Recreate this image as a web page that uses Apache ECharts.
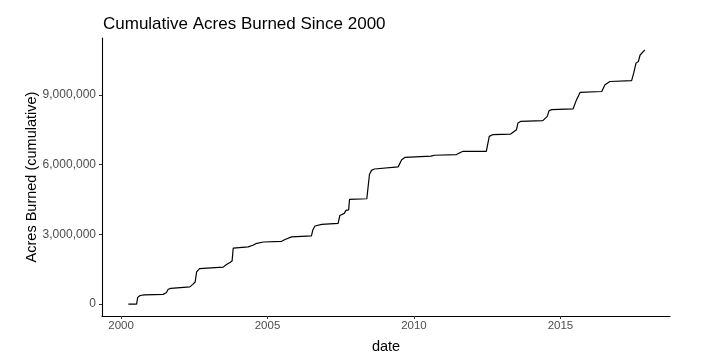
<!DOCTYPE html>
<html>
<head>
<meta charset="utf-8">
<script src="https://cdn.jsdelivr.net/npm/echarts@6/dist/echarts.min.js"></script>
<style>html,body{margin:0;padding:0;background:#fff}#c{width:722px;height:359px}</style>
</head>
<body>
<div id="c"></div>
<script>
const titleText = 'Cumulative Acres Burned Since 2000';
const xTicks = [2000, 2005, 2010, 2015];
const yTicks = [0, 3000000, 6000000, 9000000];
const years = [2000.25,2000.53,2000.57,2000.65,2000.8,2001.44,2001.55,2001.61,2001.7,2002.35,2002.45,2002.53,2002.58,2002.68,2003.49,2003.6,2003.72,2003.79,2003.83,2004.34,2004.5,2004.6,2004.86,2005.48,2005.6,2005.82,2006.5,2006.55,2006.62,2006.85,2007.41,2007.47,2007.62,2007.68,2007.77,2007.8,2008.39,2008.48,2008.55,2008.65,2009.46,2009.58,2009.7,2010.58,2010.7,2011.45,2011.6,2011.68,2012.47,2012.57,2012.7,2013.3,2013.5,2013.55,2013.65,2014.4,2014.55,2014.61,2014.7,2015.43,2015.55,2015.67,2016.41,2016.52,2016.69,2017.43,2017.5,2017.58,2017.66,2017.72,2017.88];
const acresM = [0,0,0.29,0.37,0.40,0.42,0.5,0.64,0.68,0.74,0.85,0.95,1.39,1.53,1.59,1.70,1.79,1.85,2.41,2.46,2.53,2.60,2.67,2.70,2.78,2.89,2.93,3.2,3.36,3.43,3.47,3.81,3.9,4.03,4.05,4.5,4.53,5.57,5.75,5.81,5.9,6.21,6.31,6.36,6.4,6.43,6.53,6.57,6.57,7.21,7.29,7.31,7.5,7.79,7.86,7.89,8.07,8.31,8.36,8.39,8.79,9.10,9.14,9.43,9.57,9.61,9.93,10.36,10.43,10.71,10.93];

const data = years.map((y, i) => [y, acresM[i] * 1e6]);
const font = 'Liberation Sans';
const chart = echarts.init(document.getElementById('c'), null, {renderer: 'canvas'});
chart.setOption({
  animation: false,
  backgroundColor: '#fff',
  title: {
    text: titleText, left: 98, top: 11,
    textStyle: {fontFamily: font, fontSize: 17, fontWeight: 'normal', color: '#000'}
  },
  grid: {left: 102, top: 38, right: 52, bottom: 42, containLabel: false},
  xAxis: {
    type: 'value', min: 1999.35, max: 2018.74,
    name: 'date', nameLocation: 'middle', nameGap: 23, nameMoveOverlap: false,
    nameTextStyle: {fontFamily: font, fontSize: 14.5, color: '#000'},
    splitLine: {show: false},
    axisLine: {show: true, onZero: false, lineStyle: {color: '#000', width: 1.1}},
    axisTick: {show: true, customValues: xTicks, length: 3, lineStyle: {color: '#333'}},
    axisLabel: {customValues: xTicks, fontFamily: font, fontSize: 11.5, color: '#4d4d4d', margin: 4,
      formatter: v => String(Math.round(v))}
  },
  yAxis: {
    type: 'value', min: -510000, max: 11440000,
    name: 'Acres Burned (cumulative)', nameLocation: 'middle', nameGap: 63, nameRotate: 90, nameMoveOverlap: false,
    nameTextStyle: {fontFamily: font, fontSize: 14.5, color: '#000'},
    splitLine: {show: false},
    axisLine: {show: true, onZero: false, lineStyle: {color: '#000', width: 1.1}},
    axisTick: {show: true, customValues: yTicks, length: 3, lineStyle: {color: '#333'}},
    axisLabel: {customValues: yTicks, fontFamily: font, fontSize: 12, color: '#4d4d4d', margin: 6,
      formatter: v => Math.round(v).toLocaleString('en-US')}
  },
  series: [{
    type: 'line', data: data, showSymbol: false, symbol: 'none',
    lineStyle: {color: '#000', width: 1.2}
  }]
});
</script>
</body>
</html>
